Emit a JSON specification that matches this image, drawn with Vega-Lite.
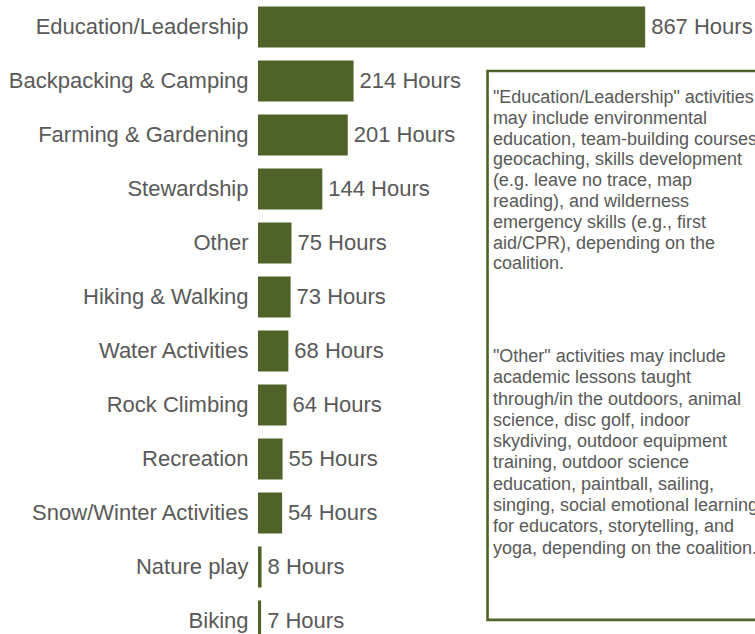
{
  "$schema": "https://vega.github.io/schema/vega-lite/v6.json",
  "autosize": "none",
  "width": 497,
  "height": 648,
  "padding": {"left": 258, "top": 0, "right": 0, "bottom": 0},
  "background": "white",
  "config": {"view": {"stroke": null}, "font": "Liberation Sans"},
  "resolve": {"scale": {"y": "independent"}, "axis": {"y": "independent"}},
  "layer": [
    {
      "data": {"values": [
        {"activity": "Education/Leadership", "hours": 867, "label": "867 Hours"},
        {"activity": "Backpacking & Camping", "hours": 214, "label": "214 Hours"},
        {"activity": "Farming & Gardening", "hours": 201, "label": "201 Hours"},
        {"activity": "Stewardship", "hours": 144, "label": "144 Hours"},
        {"activity": "Other", "hours": 75, "label": "75 Hours"},
        {"activity": "Hiking & Walking", "hours": 73, "label": "73 Hours"},
        {"activity": "Water Activities", "hours": 68, "label": "68 Hours"},
        {"activity": "Rock Climbing", "hours": 64, "label": "64 Hours"},
        {"activity": "Recreation", "hours": 55, "label": "55 Hours"},
        {"activity": "Snow/Winter Activities", "hours": 54, "label": "54 Hours"},
        {"activity": "Nature play", "hours": 8, "label": "8 Hours"},
        {"activity": "Biking", "hours": 7, "label": "7 Hours"}
      ]},
      "encoding": {
        "y": {
          "field": "activity", "type": "nominal", "sort": null,
          "scale": {"paddingInner": 0.24, "paddingOuter": 0.12},
          "axis": {"title": null, "ticks": false, "domain": false, "labelFontSize": 22, "labelColor": "#595959", "labelPadding": 10, "labelFont": "Liberation Sans", "labelLimit": 400}
        },
        "x": {"field": "hours", "type": "quantitative", "scale": {"domain": [0, 1113], "nice": false, "zero": true}, "axis": null}
      },
      "layer": [
        {"mark": {"type": "bar", "color": "#4F6228"}},
        {"mark": {"type": "text", "align": "left", "baseline": "middle", "dx": 6, "fontSize": 22, "color": "#595959"}, "encoding": {"text": {"field": "label"}}}
      ]
    },
    {
      "data": {"values": [{}]},
      "layer": [
        {
          "mark": {"type": "rect", "fill": "white", "stroke": "#4F6228", "strokeWidth": 2.6},
          "encoding": {
            "x": {"datum": 514, "type": "quantitative", "scale": {"domain": [0, 1113], "nice": false}, "axis": null},
            "x2": {"datum": 1300},
            "y": {"datum": 1.315, "type": "quantitative", "scale": {"domain": [0, 12], "reverse": true, "nice": false}, "axis": null},
            "y2": {"datum": 11.48}
          }
        },
        {
          "mark": {"type": "text", "align": "left", "baseline": "middle", "fontSize": 18, "lineHeight": 20.8, "color": "#595959",
            "text": ["\"Education/Leadership\" activities", "may include environmental", "education, team-building courses,", "geocaching, skills development", "(e.g. leave no trace, map", "reading), and wilderness", "emergency skills (e.g., first", "aid/CPR), depending on the", "coalition."]},
          "encoding": {
            "x": {"datum": 526, "type": "quantitative", "scale": {"domain": [0, 1113], "nice": false}, "axis": null},
            "y": {"datum": 1.815, "type": "quantitative", "scale": {"domain": [0, 12], "reverse": true, "nice": false}, "axis": null}
          }
        },
        {
          "mark": {"type": "text", "align": "left", "baseline": "middle", "fontSize": 18, "lineHeight": 21.3, "color": "#595959",
            "text": ["\"Other\" activities may include", "academic lessons taught", "through/in the outdoors, animal", "science, disc golf, indoor", "skydiving, outdoor equipment", "training, outdoor science", "education, paintball, sailing,", "singing, social emotional learning", "for educators, storytelling, and", "yoga, depending on the coalition."]},
          "encoding": {
            "x": {"datum": 526, "type": "quantitative", "scale": {"domain": [0, 1113], "nice": false}, "axis": null},
            "y": {"datum": 6.611, "type": "quantitative", "scale": {"domain": [0, 12], "reverse": true, "nice": false}, "axis": null}
          }
        }
      ]
    }
  ]
}
